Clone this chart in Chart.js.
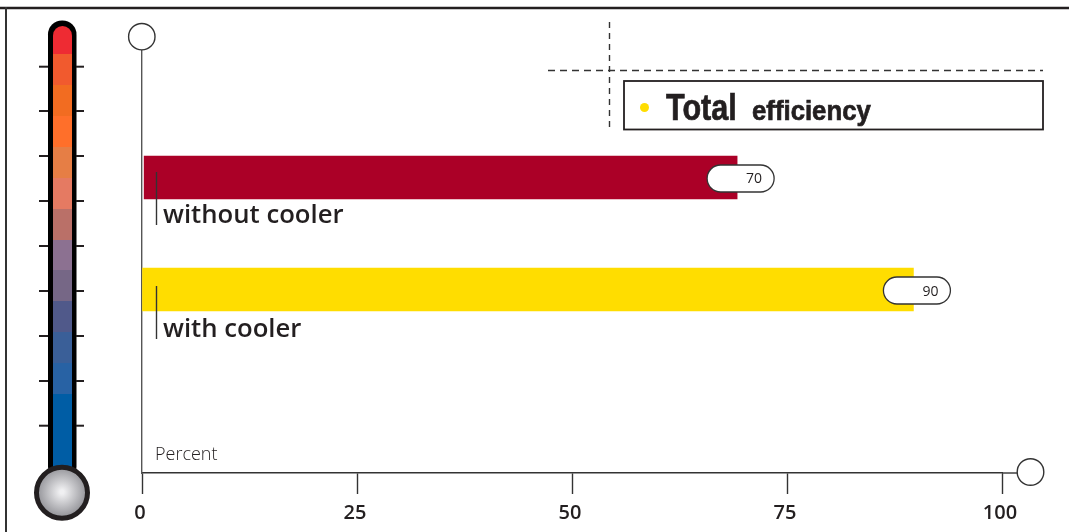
<!DOCTYPE html>
<html>
<head>
<meta charset="utf-8">
<title>Total efficiency</title>
<script src="https://cdn.jsdelivr.net/npm/chart.js@4"></script>
<style>
html, body { margin: 0; padding: 0; background: #fff; overflow: hidden; }
canvas { display: block; }
</style>
</head>
<body>
<canvas id="chart" width="1069" height="532"></canvas>
<script>
const categories = ["without cooler", "with cooler"];
const bar_start = [0.25, 0];
const bar_end = [69.2, 89.7];
const value_labels = ["70", "90"];
const bar_colors = ["#ab0027", "#ffdd00"];
const tick_values = [0, 25, 50, 75, 100];
const thermo_colors = ["#ee2b33", "#f15a2e", "#f26c21", "#ff6f2a", "#e67e45", "#e57a62", "#ba7068",
    "#8c7191", "#766786", "#50598a", "#3a5f98", "#2862a4", "#005da5"];
const INK = "#231f20";

const chart_canvas = document.getElementById("chart");
const ctx = chart_canvas.getContext("2d");

function line(c, x1, y1, x2, y2, width, color, dash) {
    c.save();
    c.strokeStyle = color;
    c.lineWidth = width;
    c.setLineDash(dash || []);
    c.beginPath();
    c.moveTo(x1, y1);
    c.lineTo(x2, y2);
    c.stroke();
    c.restore();
}

function circle(c, x, y, r) {
    c.save();
    c.fillStyle = "#fff";
    c.strokeStyle = "#333";
    c.lineWidth = 1.4;
    c.beginPath();
    c.arc(x, y, r, 0, Math.PI * 2);
    c.fill();
    c.stroke();
    c.restore();
}

// no condensed face installed, so squeeze the bold one sideways
function narrow_text(c, txt, x, y, size, x_scale) {
    c.save();
    c.translate(x, y);
    c.scale(x_scale, 1);
    c.font = `bold ${size}px 'Liberation Sans'`;
    c.strokeStyle = INK;
    c.lineWidth = 0.7;
    c.fillText(txt, 0, 0);
    c.strokeText(txt, 0, 0);
    c.restore();
}

function draw_thermometer(c) {
    // tube
    c.fillStyle = "#000";
    c.beginPath();
    c.roundRect(48, 20.5, 28.5, 460, 14);
    c.fill();

    // ticks
    for (const y of [66.7, 111, 156, 201, 246, 291, 336, 381, 425.7]) {
        line(c, 39, y, 48, y, 2, INK);
        line(c, 76, y, 84, y, 2, INK);
    }

    // mercury
    c.save();
    c.beginPath();
    c.roundRect(53, 26, 19, 450, 9.5);
    c.clip();
    const edges = [26, 54, 85, 116, 147, 178, 209, 240, 270, 301, 332, 363, 394, 476];
    thermo_colors.forEach((color, i) => {
        c.fillStyle = color;
        c.fillRect(53, edges[i], 19, edges[i + 1] - edges[i]);
    });
    c.restore();

    // bulb
    const g = c.createRadialGradient(62, 492, 2, 62, 492, 24);
    g.addColorStop(0, "#f0f0f2");
    g.addColorStop(1, "#97979c");
    c.fillStyle = g;
    c.strokeStyle = INK;
    c.lineWidth = 5;
    c.beginPath();
    c.arc(62, 492.7, 25.5, 0, Math.PI * 2);
    c.fill();
    c.stroke();
}

const decorations = {
    id: "decorations",
    beforeDraw(chart) {
        const c = chart.ctx;
        c.save();
        // frame
        line(c, 0, 8, 1069, 8, 2.5, INK);
        line(c, 6, 7, 6, 532, 2, "#333");
        draw_thermometer(c);

        // dashed cross
        line(c, 609.5, 22, 609.5, 132, 1.4, "#333", [6, 5]);
        line(c, 548, 70.5, 1043, 70.5, 1.4, "#333", [7, 5]);
        c.restore();
    },
    afterDatasetsDraw(chart) {
        const c = chart.ctx;
        const meta = chart.getDatasetMeta(0);
        const area = chart.chartArea;
        c.save();

        // axis end circles
        line(c, area.right, area.bottom, 1017, area.bottom, 1.4, "#333");
        circle(c, 141.8, 36.7, 13.2);
        circle(c, 1030.5, 472, 13.3);

        // percent
        c.fillStyle = INK;
        c.textAlign = "left";
        c.textBaseline = "alphabetic";
        c.font = "300 18px 'Open Sans'";
        c.fillText("Percent", 155, 460);

        // category labels and value pills
        meta.data.forEach((bar, i) => {
            // the labels sit a little further apart than the bars
            const label_y = bar.y + i * 2;
            line(c, 156.5, label_y - 5.5, 156.5, label_y + 47.5, 1.4, "#333");
            c.fillStyle = INK;
            c.textAlign = "left";
            c.font = "600 25.7px 'Open Sans'";
            c.fillText(categories[i], 163, label_y + 45.5);

            const right = bar.x + 37;
            c.fillStyle = "#fff";
            c.strokeStyle = "#333";
            c.lineWidth = 1.3;
            c.beginPath();
            c.roundRect(right - 67, bar.y - 12.5, 67, 27, 13.5);
            c.fill();
            c.stroke();
            c.fillStyle = INK;
            c.textAlign = "right";
            c.font = "500 14px 'Open Sans'";
            c.fillText(value_labels[i], right - 12, bar.y + 6);
        });

        // legend box
        c.strokeStyle = INK;
        c.lineWidth = 1.8;
        c.strokeRect(624, 81, 419, 48.5);
        c.fillStyle = "#ffdd00";
        c.beginPath();
        c.arc(644.5, 107.5, 4.5, 0, Math.PI * 2);
        c.fill();
        c.fillStyle = INK;
        c.textAlign = "left";
        narrow_text(c, "Total", 666, 120, 36, 0.85);
        narrow_text(c, "efficiency", 752, 120, 28, 0.92);
        c.restore();
    },
};

const chart = new Chart(chart_canvas, {
    type: "bar",
    data: {
        datasets: [{
            data: categories.map((name, i) => ({ x: [bar_start[i], bar_end[i]], y: i + 1 })),
            backgroundColor: bar_colors,
            barThickness: 43,
            borderSkipped: false,
        }],
    },
    options: {
        indexAxis: "y",
        responsive: false,
        animation: false,
        layout: { padding: { top: 50, right: 67, left: 0, bottom: 0 } },
        plugins: {
            legend: { display: false },
            title: { display: false },
            tooltip: { enabled: false },
        },
        scales: {
            x: {
                type: "linear",
                min: 0,
                max: 100,
                afterBuildTicks: (scale) => { scale.ticks = tick_values.map(v => ({ value: v })); },
                afterFit: (scale) => { scale.height = 59; },
                border: { color: "#333", width: 1.4 },
                grid: { drawOnChartArea: false, tickLength: 21, tickColor: "#333", tickWidth: 1.4 },
                ticks: {
                    color: INK,
                    padding: 7,
                    labelOffset: -2,
                    maxRotation: 0,
                    autoSkip: false,
                    font: { family: "'Open Sans'", size: 20, weight: "600" },
                },
            },
            y: {
                type: "linear",
                offset: false,
                reverse: true,
                min: -0.138,
                max: 3.638,
                afterFit: (scale) => { scale.width = 142; },
                border: { color: "#555", width: 1.4 },
                grid: { display: true, offset: false, drawOnChartArea: false, drawTicks: false },
                ticks: { display: false },
            },
        },
    },
    plugins: [decorations],
});
</script>
</body>
</html>
